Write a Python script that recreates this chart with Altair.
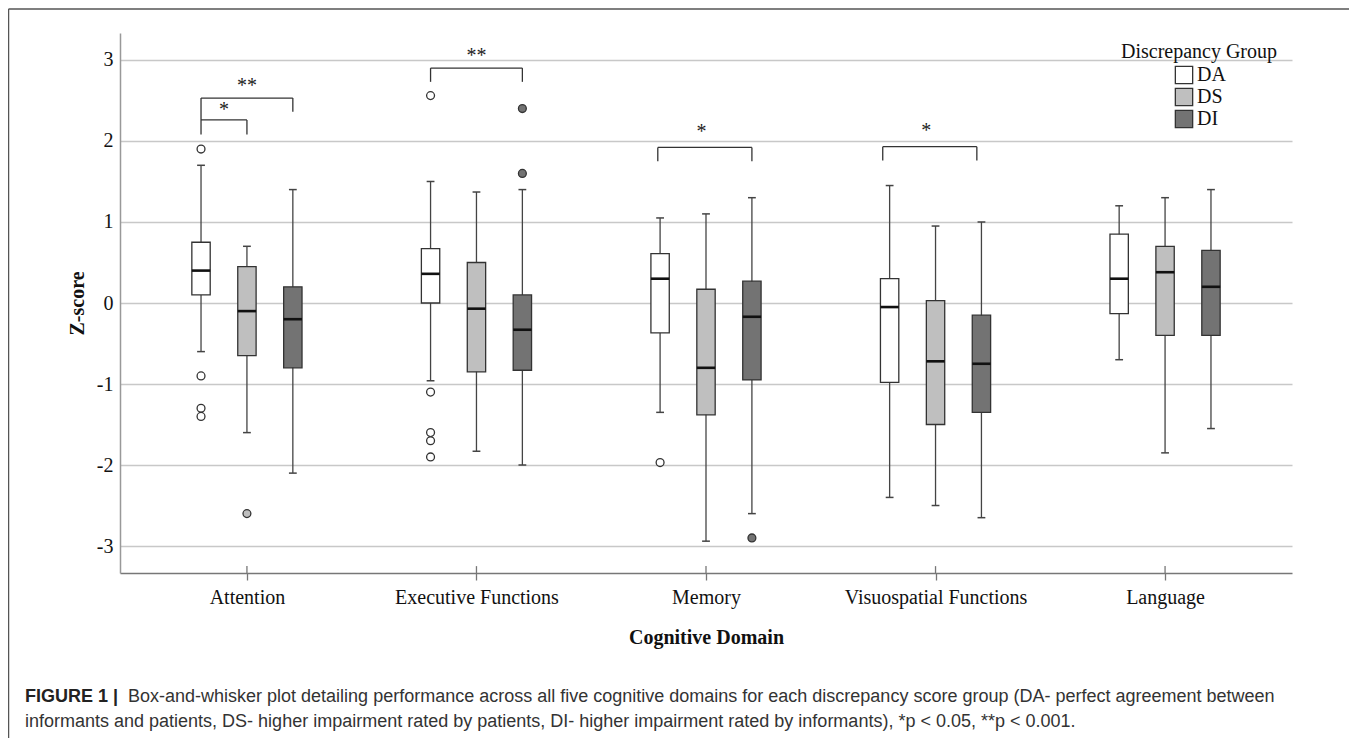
import altair as alt
import pandas as pd

# ---------------- data ----------------
domains = ["Attention", "Executive Functions", "Memory", "Visuospatial Functions", "Language"]
groups = ["DA", "DS", "DI"]
group_colors = ["#ffffff", "#bfbfbf", "#737373"]

whisk_lo = {"DA": [-0.60, -0.96, -1.35, -2.40, -0.70],
            "DS": [-1.60, -1.83, -2.94, -2.50, -1.85],
            "DI": [-2.10, -2.00, -2.60, -2.65, -1.55]}
q1 = {"DA": [0.10, 0.00, -0.37, -0.98, -0.13],
      "DS": [-0.65, -0.85, -1.38, -1.50, -0.40],
      "DI": [-0.80, -0.83, -0.95, -1.35, -0.40]}
median = {"DA": [0.40, 0.36, 0.30, -0.05, 0.30],
          "DS": [-0.10, -0.07, -0.80, -0.72, 0.38],
          "DI": [-0.20, -0.33, -0.17, -0.75, 0.20]}
q3 = {"DA": [0.75, 0.67, 0.61, 0.30, 0.85],
      "DS": [0.45, 0.50, 0.17, 0.03, 0.70],
      "DI": [0.20, 0.10, 0.27, -0.15, 0.65]}
whisk_hi = {"DA": [1.70, 1.50, 1.05, 1.45, 1.20],
            "DS": [0.70, 1.37, 1.10, 0.95, 1.30],
            "DI": [1.40, 1.40, 1.30, 1.00, 1.40]}

outlier_domain = ["Attention", "Attention", "Attention", "Attention", "Attention",
                  "Executive Functions", "Executive Functions", "Executive Functions",
                  "Executive Functions", "Executive Functions", "Executive Functions",
                  "Executive Functions", "Memory", "Memory"]
outlier_group = ["DA", "DA", "DA", "DA", "DS",
                 "DA", "DA", "DA", "DA", "DA", "DI", "DI", "DA", "DI"]
outlier_value = [1.90, -0.90, -1.30, -1.40, -2.60,
                 2.56, -1.10, -1.60, -1.70, -1.90, 2.40, 1.60, -1.97, -2.90]

# significance brackets (x in category units, y in z-score)
br_left = [-0.20, -0.20, 0.80, 1.79, 2.77]
br_right = [0.00, 0.20, 1.20, 2.20, 3.18]
br_top = [2.26, 2.53, 2.90, 1.92, 1.93]
br_left_bottom = [2.08, 2.26, 2.73, 1.75, 1.76]
br_right_bottom = [2.08, 2.36, 2.73, 1.75, 1.76]
star_x = [-0.10, 0.00, 1.00, 1.98, 2.96]
star_y = [2.31, 2.60, 2.97, 2.04, 2.05]
star_text = ["*", "**", "**", "*", "*"]

y_ticks = [-3, -2, -1, 0, 1, 2, 3]
legend_title = "Discrepancy Group"
x_title = "Cognitive Domain"
y_title = "Z-score"
caption_bold = "FIGURE 1 |"
caption_line1 = ("Box-and-whisker plot detailing performance across all five cognitive domains "
                 "for each discrepancy score group (DA- perfect agreement between")
caption_line2 = ("informants and patients, DS- higher impairment rated by patients, DI- higher "
                 "impairment rated by informants), *p < 0.05, **p < 0.001.")

# ---------------- layout constants ----------------
GROUP_STEP = 0.2
BOX_HALF = 0.04
CAP_HALF = 0.017
Y_MIN, Y_MAX = -3.333, 3.333
TICK_UP = 0.085
W, H = 1172, 540
SERIF = "Liberation Serif"
SANS = "Liberation Sans"

rows = []
for di, d in enumerate(domains):
    for gi, g in enumerate(groups):
        pos = di + (gi - 1) * GROUP_STEP
        rows.append(dict(domain=d, group=g, pos=pos,
                         left=pos - BOX_HALF, right=pos + BOX_HALF,
                         capl=pos - CAP_HALF, capr=pos + CAP_HALF,
                         lo=whisk_lo[g][di], q1=q1[g][di], med=median[g][di],
                         q3=q3[g][di], hi=whisk_hi[g][di]))
box_df = pd.DataFrame(rows)

out_df = pd.DataFrame({"domain": outlier_domain, "group": outlier_group, "value": outlier_value})
out_df["pos"] = [domains.index(d) + (groups.index(g) - 1) * GROUP_STEP
                 for d, g in zip(out_df["domain"], out_df["group"])]

br_df = pd.DataFrame({"l": br_left, "r": br_right, "top": br_top,
                      "lb": br_left_bottom, "rb": br_right_bottom})
star_df = pd.DataFrame({"x": star_x, "y": star_y, "t": star_text})
tick_df = pd.DataFrame({"x": list(range(len(domains))),
                        "y": [Y_MIN] * len(domains),
                        "y2": [Y_MIN + TICK_UP] * len(domains)})

# ---------------- scales / axes ----------------
xs = alt.Scale(domain=[-0.553, len(domains) - 1 + 0.553], nice=False, zero=False)
ys = alt.Scale(domain=[Y_MIN, Y_MAX], nice=False, zero=False)

label_expr = "[" + ",".join("'" + d + "'" for d in domains) + "][datum.value]"
xax = alt.Axis(values=list(range(len(domains))), labelExpr=label_expr, grid=False,
               title=x_title, titleFont=SERIF, titleFontSize=20, titleFontWeight="bold",
               titleColor="#111", titlePadding=20, labelLimit=400,
               labelFont=SERIF, labelFontSize=20, labelColor="#111", labelPadding=7,
               domainColor="#777", domainWidth=1.5, tickColor="#777", tickWidth=1.3, tickSize=7,
               labelAngle=0)
yax = alt.Axis(values=y_ticks, labelExpr="'' + datum.value", grid=True,
               gridColor="#c8c8c8", gridWidth=1.5, ticks=False,
               labelFont=SERIF, labelFontSize=20, labelColor="#111", labelPadding=7,
               domainColor="#999", domainWidth=1.5,
               title=y_title, titleFont=SERIF, titleFontSize=20, titleFontWeight="bold",
               titleColor="#111", titleX=-43, titleY=270, titleBaseline="middle", titleAngle=270)

X = lambda f: alt.X(f, type="quantitative", scale=xs, axis=xax)
Y = lambda f: alt.Y(f, type="quantitative", scale=ys, axis=yax)

fill_scale = alt.Scale(domain=groups, range=group_colors)

whiskers = alt.Chart(box_df).mark_rule(color="#444", strokeWidth=1.3).encode(
    x=X("pos"), y=Y("lo"), y2="hi")
cap_lo = alt.Chart(box_df).mark_rule(color="#444", strokeWidth=1.5).encode(
    x=X("capl"), x2="capr", y=Y("lo"))
cap_hi = alt.Chart(box_df).mark_rule(color="#444", strokeWidth=1.5).encode(
    x=X("capl"), x2="capr", y=Y("hi"))
boxes = alt.Chart(box_df).mark_bar(stroke="#333", strokeWidth=1.3).encode(
    x=X("left"), x2="right", y=Y("q1"), y2="q3",
    fill=alt.Fill("group:N", scale=fill_scale,
                  legend=alt.Legend(title=None, orient="none", legendX=1054, legendY=32,
                                    padding=0, symbolType="square", symbolSize=300,
                                    symbolStrokeColor="#333", symbolStrokeWidth=1.3,
                                    symbolOpacity=1,
                                    labelFont=SERIF, labelFontSize=20, labelColor="#111",
                                    labelOffset=3, rowPadding=-2, symbolOffset=0)))
medians = alt.Chart(box_df).mark_rule(color="#111", strokeWidth=2.6).encode(
    x=X("left"), x2="right", y=Y("med"))
outliers = alt.Chart(out_df).mark_point(filled=True, size=62, stroke="#333", strokeWidth=1.3,
                                        opacity=1).encode(
    x=X("pos"), y=Y("value"),
    fill=alt.Fill("group:N", scale=fill_scale, legend=None))

br_h = alt.Chart(br_df).mark_rule(color="#333", strokeWidth=1.3).encode(
    x=X("l"), x2="r", y=Y("top"))
br_l = alt.Chart(br_df).mark_rule(color="#333", strokeWidth=1.3).encode(
    x=X("l"), y=Y("top"), y2="lb")
br_r = alt.Chart(br_df).mark_rule(color="#333", strokeWidth=1.3).encode(
    x=X("r"), y=Y("top"), y2="rb")
stars = alt.Chart(star_df).mark_text(font=SERIF, fontSize=20, color="#222",
                                     baseline="alphabetic", align="center").encode(
    x=X("x"), y=Y("y"), text="t:N")
up_ticks = alt.Chart(tick_df).mark_rule(color="#777", strokeWidth=1.3).encode(
    x=X("x"), y=Y("y"), y2="y2")

# ---------------- decorations (frame, legend title, caption) ----------------
one = pd.DataFrame({"a": [0]})
frame_l = alt.Chart(one).mark_rule(color="#555", strokeWidth=1.5).encode(
    x=alt.value(-111.5), y=alt.value(-24), y2=alt.value(720))
frame_r = alt.Chart(one).mark_rule(color="#555", strokeWidth=1.5).encode(
    x=alt.value(1232), y=alt.value(-24), y2=alt.value(720))
frame_t = alt.Chart(one).mark_rule(color="#555", strokeWidth=1.5).encode(
    x=alt.value(-111.5), x2=alt.value(1232), y=alt.value(-24))

leg_title = alt.Chart(pd.DataFrame({"t": [legend_title]})).mark_text(
    font=SERIF, fontSize=20, color="#111", align="center", baseline="middle").encode(
    x=alt.value(1079), y=alt.value(19), text="t:N")

cap_b = alt.Chart(pd.DataFrame({"t": [caption_bold]})).mark_text(
    font=SANS, fontSize=18, fontWeight="bold", color="#222", align="left",
    baseline="alphabetic").encode(x=alt.value(-95), y=alt.value(669), text="t:N")
cap_1 = alt.Chart(pd.DataFrame({"t": [caption_line1]})).mark_text(
    font=SANS, fontSize=18, color="#333", align="left",
    baseline="alphabetic").encode(x=alt.value(8), y=alt.value(669), text="t:N")
cap_2 = alt.Chart(pd.DataFrame({"t": [caption_line2]})).mark_text(
    font=SANS, fontSize=18, color="#333", align="left",
    baseline="alphabetic").encode(x=alt.value(-95), y=alt.value(694), text="t:N")

chart = alt.layer(
    whiskers, cap_lo, cap_hi, boxes, medians, outliers,
    br_h, br_l, br_r, stars, up_ticks,
    frame_l, frame_r, frame_t, leg_title, cap_b, cap_1, cap_2
).properties(
    width=W, height=H,
    autosize=alt.AutoSizeParams(type="none"),
    padding={"left": 112, "top": 25, "right": 57, "bottom": 165},
    background="#ffffff",
).configure_view(strokeWidth=0)

chart.save("out.html", embed_options={"renderer": "svg", "actions": False})
